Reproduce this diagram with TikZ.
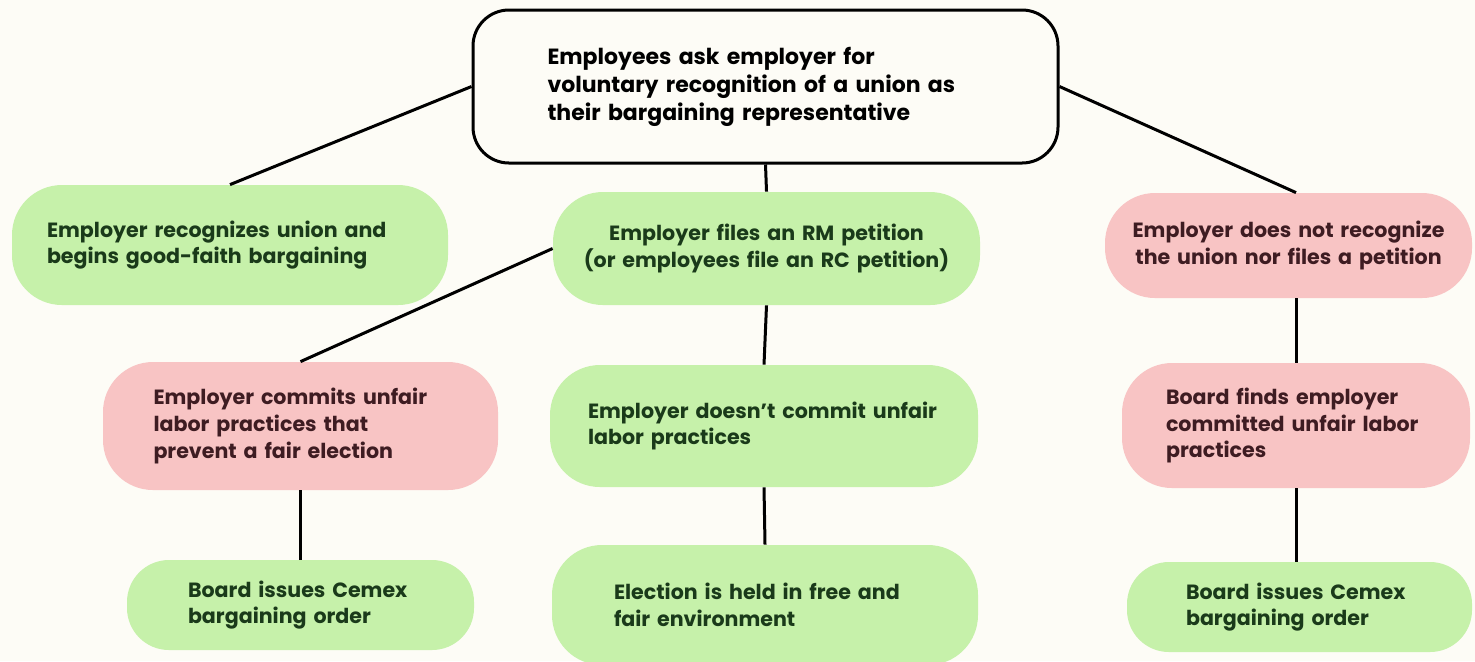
\documentclass[tikz,border=0pt]{standalone}
\usepackage{fontspec}
\setmainfont{Poppins}
\hyphenpenalty=10000
\exhyphenpenalty=10000
\definecolor{paper}{HTML}{FDFCF6}
\definecolor{leaf}{HTML}{C6F1AA}
\definecolor{leaftext}{HTML}{1A3A1A}
\definecolor{rose}{HTML}{F8C4C4}
\definecolor{rosetext}{HTML}{3E1C22}
\begin{document}
\begin{tikzpicture}[x=0.5pt,y=-0.5pt,
  box/.style={rounded corners=25pt,inner ysep=0pt,font=\fontsize{10.3}{13.4}\selectfont\bfseries},
  good/.style={box,fill=leaf,text=leaftext},
  bad/.style={box,fill=rose,text=rosetext},
  slim/.style={rounded corners=21pt},
  link/.style={draw=black,line width=1.5pt}]
\fill[paper] (0,0) rectangle (1475,661);
\useasboundingbox (0,0) rectangle (1475,661);

% root question
\node[box,draw=black,line width=1.5pt,fill=paper,rounded corners=18pt,
  font=\fontsize{11}{14}\selectfont\bfseries,
  minimum width=292.5pt,minimum height=76.5pt,inner xsep=37pt,text width=218pt,align=left]
  (root) at (765.5,86.5) {Employees ask employer for\\voluntary recognition of a union as\\their bargaining representative};

% first level
\node[good,minimum width=218pt,minimum height=60pt,inner xsep=17.5pt,text width=183pt,align=left]
  (recog) at (230,245) {Employer recognizes union and\\begins good-faith bargaining};
\node[good,minimum width=213.5pt,minimum height=56.5pt,inner xsep=5pt,text width=203pt,align=center]
  (rm) at (766.5,248.5) {Employer files an RM petition\\(or employees file an RC petition)};
\node[bad,minimum width=183.5pt,minimum height=52.5pt,inner xsep=3pt,text width=177pt,align=center]
  (norec) at (1288.5,245.5) {Employer does not recognize\\the union nor files a petition};

% second level
\node[bad,minimum width=197.5pt,minimum height=64pt,inner xsep=25pt,text width=147pt,align=left]
  (ulp) at (300.5,426) {Employer commits unfair\\labor practices that\\prevent a fair election};
\node[good,minimum width=214pt,minimum height=61pt,inner xsep=19pt,text width=176pt,align=left]
  (noulp) at (764,426) {Employer doesn't commit unfair\\labor practices};
\node[bad,minimum width=174pt,minimum height=62.5pt,inner xsep=22pt,text width=130pt,align=left]
  (finds) at (1296,425.5) {Board finds employer\\committed unfair labor\\practices};

% outcomes
\node[good,slim,minimum width=173.5pt,minimum height=45pt,inner xsep=30.5pt,text width=112.5pt,align=left]
  (cemexA) at (300.5,605) {Board issues Cemex\\bargaining order};
\node[good,minimum width=213pt,minimum height=60pt,inner xsep=31pt,text width=151pt,align=left]
  (election) at (765,605) {Election is held in free and\\fair environment};
\node[good,slim,minimum width=172.5pt,minimum height=45pt,inner xsep=29.5pt,text width=113.5pt,align=left]
  (cemexB) at (1299.5,607) {Board issues Cemex\\bargaining order};

% connectors
\draw[link] (root.west) -- (recog.north);
\draw[link] (root.south) -- (rm.north);
\draw[link] (root.east) -- (finds.north |- norec.north);
\draw[link] (rm.west) -- (ulp.north);
\draw[link] (rm.south) -- (noulp.north);
\draw[link] (finds.north |- norec.south) -- (finds.north);
\draw[link] (ulp.south) -- (cemexA.north);
\draw[link] (noulp.south) -- (election.north);
\draw[link] (finds.south) -- (cemexB.north -| finds.south);
\end{tikzpicture}
\end{document}
